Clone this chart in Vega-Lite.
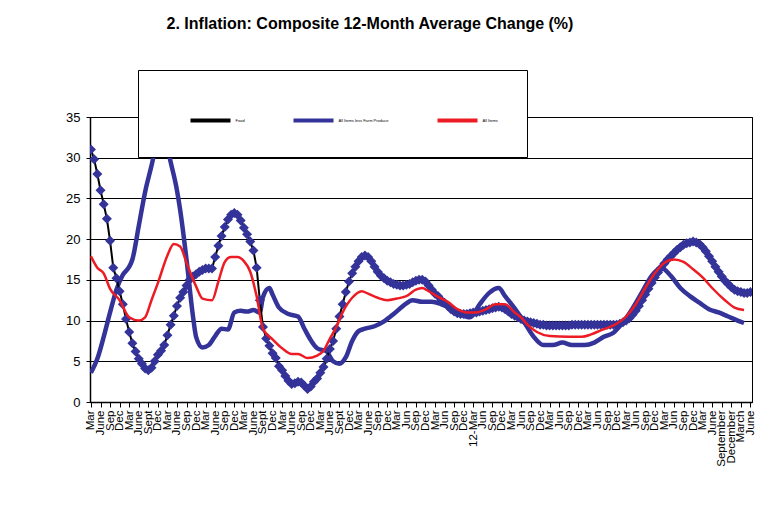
{
  "$schema": "https://vega.github.io/schema/vega-lite/v6.json",
  "width": 662,
  "height": 285,
  "autosize": {"type": "none"},
  "padding": {"left": 90, "top": 117, "right": 17, "bottom": 104},
  "background": "white",
  "config": {
    "font": "Liberation Sans",
    "view": {"stroke": "#000", "strokeWidth": 1},
    "axis": {"labelFont": "Liberation Sans", "labelColor": "#000", "domainColor": "#000", "tickColor": "#000", "title": null},
    "legend": {
      "orient": "none", "legendX": 48, "legendY": -47, "direction": "horizontal", "columns": 3,
      "symbolType": "stroke", "symbolSize": 1600, "symbolStrokeWidth": 4,
      "labelFont": "Liberation Sans", "labelFontSize": 4, "labelColor": "#000", "labelOffset": 3, "labelLimit": 0,
      "columnPadding": 40, "padding": 28.5, "fillColor": "white", "strokeColor": "#000",
      "titleOrient": "left", "titleFontSize": 4, "titlePadding": 22, "zindex": 1
    }
  },
  "title": {"text": "2. Inflation: Composite 12-Month Average Change (%)", "font": "Liberation Sans", "fontSize": 16, "fontWeight": "bold", "color": "#000", "anchor": "middle", "frame": "group", "dx": -51, "offset": 38},
  "datasets": {
    "food": [
      {"m":0,"v":31.0},{"m":1,"v":29.8},{"m":2,"v":28.0},{"m":3,"v":26.0},{"m":4,"v":24.3},{"m":5,"v":22.5},{"m":6,"v":19.8},{"m":7,"v":16.5},{"m":8,"v":15.2},{"m":9,"v":13.6},
      {"m":10,"v":12.0},{"m":11,"v":10.2},{"m":12,"v":8.6},{"m":13,"v":7.2},{"m":14,"v":6.2},{"m":15,"v":5.3},{"m":16,"v":4.7},{"m":17,"v":4.1},{"m":18,"v":3.9},{"m":19,"v":4.2},
      {"m":20,"v":5.0},{"m":21,"v":5.8},{"m":22,"v":6.3},{"m":23,"v":7.0},{"m":24,"v":8.2},{"m":25,"v":9.5},{"m":26,"v":10.6},{"m":27,"v":11.8},{"m":28,"v":12.8},{"m":29,"v":13.5},
      {"m":30,"v":14.3},{"m":31,"v":15.0},{"m":32,"v":15.4},{"m":33,"v":15.7},{"m":34,"v":16.0},{"m":35,"v":16.2},{"m":36,"v":16.4},{"m":37,"v":16.4},{"m":38,"v":16.4},{"m":39,"v":17.8},
      {"m":40,"v":19.2},{"m":41,"v":20.4},{"m":42,"v":21.5},{"m":43,"v":22.4},{"m":44,"v":23.0},{"m":45,"v":23.2},{"m":46,"v":23.0},{"m":47,"v":22.3},{"m":48,"v":21.4},{"m":49,"v":20.6},
      {"m":50,"v":19.7},{"m":51,"v":18.6},{"m":52,"v":16.5},{"m":53,"v":12.5},{"m":54,"v":9.2},{"m":55,"v":7.8},{"m":56,"v":6.9},{"m":57,"v":6.0},{"m":58,"v":5.4},{"m":59,"v":4.4},
      {"m":60,"v":3.9},{"m":61,"v":3.2},{"m":62,"v":2.6},{"m":63,"v":2.2},{"m":64,"v":2.3},{"m":65,"v":2.5},{"m":66,"v":2.4},{"m":67,"v":2.0},{"m":68,"v":1.6},{"m":69,"v":1.9},
      {"m":70,"v":2.5},{"m":71,"v":2.9},{"m":72,"v":3.6},{"m":73,"v":4.3},{"m":74,"v":5.3},{"m":75,"v":6.5},{"m":76,"v":7.5},{"m":77,"v":9.0},{"m":78,"v":10.5},{"m":79,"v":12.0},
      {"m":80,"v":13.5},{"m":81,"v":14.8},{"m":82,"v":15.8},{"m":83,"v":16.6},{"m":84,"v":17.3},{"m":85,"v":17.8},{"m":86,"v":18.0},{"m":87,"v":17.8},{"m":88,"v":17.3},{"m":89,"v":16.6},
      {"m":90,"v":16.0},{"m":91,"v":15.5},{"m":92,"v":15.2},{"m":93,"v":14.9},{"m":94,"v":14.7},{"m":95,"v":14.5},{"m":96,"v":14.4},{"m":97,"v":14.3},{"m":98,"v":14.3},{"m":99,"v":14.4},
      {"m":100,"v":14.5},{"m":101,"v":14.7},{"m":102,"v":14.9},{"m":103,"v":15.0},{"m":104,"v":15.0},{"m":105,"v":14.8},{"m":106,"v":14.3},{"m":107,"v":13.8},{"m":108,"v":13.3},{"m":109,"v":13.0},
      {"m":110,"v":12.5},{"m":111,"v":12.2},{"m":112,"v":11.8},{"m":113,"v":11.4},{"m":114,"v":11.1},{"m":115,"v":10.9},{"m":116,"v":10.8},{"m":117,"v":10.8},{"m":118,"v":10.8},{"m":119,"v":10.9},
      {"m":120,"v":11.0},{"m":121,"v":11.0},{"m":122,"v":11.1},{"m":123,"v":11.2},{"m":124,"v":11.3},{"m":125,"v":11.4},{"m":126,"v":11.5},{"m":127,"v":11.6},{"m":128,"v":11.7},{"m":129,"v":11.6},
      {"m":130,"v":11.4},{"m":131,"v":11.1},{"m":132,"v":10.8},{"m":133,"v":10.6},{"m":134,"v":10.4},{"m":135,"v":10.2},{"m":136,"v":10.0},{"m":137,"v":9.9},{"m":138,"v":9.8},{"m":139,"v":9.7},
      {"m":140,"v":9.6},{"m":141,"v":9.5},{"m":142,"v":9.5},{"m":143,"v":9.4},{"m":144,"v":9.4},{"m":145,"v":9.4},{"m":146,"v":9.4},{"m":147,"v":9.4},{"m":148,"v":9.4},{"m":149,"v":9.4},
      {"m":150,"v":9.4},{"m":151,"v":9.5},{"m":152,"v":9.5},{"m":153,"v":9.5},{"m":154,"v":9.5},{"m":155,"v":9.5},{"m":156,"v":9.5},{"m":157,"v":9.5},{"m":158,"v":9.5},{"m":159,"v":9.5},
      {"m":160,"v":9.5},{"m":161,"v":9.5},{"m":162,"v":9.5},{"m":163,"v":9.5},{"m":164,"v":9.5},{"m":165,"v":9.5},{"m":166,"v":9.6},{"m":167,"v":9.8},{"m":168,"v":10.0},{"m":169,"v":10.3},
      {"m":170,"v":10.7},{"m":171,"v":11.2},{"m":172,"v":11.8},{"m":173,"v":12.5},{"m":174,"v":13.2},{"m":175,"v":13.9},{"m":176,"v":14.6},{"m":177,"v":15.3},{"m":178,"v":15.9},{"m":179,"v":16.5},
      {"m":180,"v":17.0},{"m":181,"v":17.5},{"m":182,"v":17.9},{"m":183,"v":18.3},{"m":184,"v":18.7},{"m":185,"v":19.0},{"m":186,"v":19.3},{"m":187,"v":19.5},{"m":188,"v":19.6},{"m":189,"v":19.7},
      {"m":190,"v":19.6},{"m":191,"v":19.4},{"m":192,"v":19.0},{"m":193,"v":18.5},{"m":194,"v":17.9},{"m":195,"v":17.3},{"m":196,"v":16.6},{"m":197,"v":16.0},{"m":198,"v":15.4},{"m":199,"v":14.9},
      {"m":200,"v":14.5},{"m":201,"v":14.1},{"m":202,"v":13.8},{"m":203,"v":13.6},{"m":204,"v":13.5},{"m":205,"v":13.4},{"m":206,"v":13.4},{"m":207,"v":13.5}
    ],
    "less": [
      {"m":0,"v":3.6},{"m":2,"v":5.3},{"m":4,"v":8.0},{"m":6,"v":11.0},{"m":8,"v":13.8},{"m":10,"v":15.6},{"m":12,"v":16.6},{"m":13,"v":17.5},{"m":15,"v":21.6},{"m":17,"v":25.8},
      {"m":19,"v":29.0},{"m":21,"v":32.5},{"m":22,"v":33.5},{"m":23,"v":33.0},{"m":25,"v":29.5},{"m":27,"v":26.0},{"m":28,"v":23.6},{"m":30,"v":17.5},{"m":32,"v":10.6},{"m":33,"v":8.0},
      {"m":35,"v":6.7},{"m":37,"v":7.0},{"m":39,"v":8.1},{"m":41,"v":9.0},{"m":43,"v":8.9},{"m":45,"v":11.0},{"m":47,"v":11.2},{"m":49,"v":11.1},{"m":51,"v":11.3},{"m":53,"v":11.0},
      {"m":54,"v":12.9},{"m":56,"v":14.0},{"m":57,"v":13.2},{"m":59,"v":11.6},{"m":62,"v":10.8},{"m":65,"v":10.5},{"m":67,"v":9.0},{"m":69,"v":7.6},{"m":71,"v":6.6},{"m":74,"v":6.2},
      {"m":76,"v":5.0},{"m":78,"v":4.7},{"m":80,"v":5.5},{"m":82,"v":7.5},{"m":84,"v":8.7},{"m":86,"v":9.0},{"m":89,"v":9.3},{"m":92,"v":9.9},{"m":95,"v":10.8},{"m":98,"v":11.8},
      {"m":101,"v":12.5},{"m":104,"v":12.3},{"m":107,"v":12.3},{"m":110,"v":12.0},{"m":113,"v":11.5},{"m":116,"v":10.8},{"m":119,"v":10.4},{"m":122,"v":12.0},{"m":125,"v":13.4},{"m":128,"v":14.0},
      {"m":130,"v":13.0},{"m":133,"v":11.5},{"m":136,"v":9.8},{"m":139,"v":8.0},{"m":142,"v":7.0},{"m":145,"v":7.0},{"m":148,"v":7.3},{"m":151,"v":7.0},{"m":155,"v":7.0},{"m":158,"v":7.3},
      {"m":161,"v":8.0},{"m":164,"v":8.5},{"m":167,"v":9.8},{"m":170,"v":11.5},{"m":173,"v":13.5},{"m":176,"v":15.5},{"m":179,"v":16.5},{"m":182,"v":15.5},{"m":185,"v":14.0},{"m":188,"v":13.0},
      {"m":191,"v":12.2},{"m":194,"v":11.4},{"m":197,"v":11.0},{"m":200,"v":10.5},{"m":203,"v":10.0},{"m":205,"v":9.7}
    ],
    "all": [
      {"m":0,"v":17.9},{"m":2,"v":16.5},{"m":4,"v":15.8},{"m":6,"v":13.9},{"m":9,"v":12.5},{"m":12,"v":10.4},{"m":15,"v":10.0},{"m":17,"v":10.4},{"m":19,"v":12.5},{"m":21,"v":14.6},
      {"m":24,"v":18.0},{"m":26,"v":19.4},{"m":28,"v":19.1},{"m":30,"v":17.1},{"m":33,"v":14.2},{"m":35,"v":12.7},{"m":38,"v":12.5},{"m":40,"v":14.8},{"m":42,"v":17.2},{"m":44,"v":17.8},
      {"m":46,"v":17.8},{"m":48,"v":17.3},{"m":50,"v":16.0},{"m":52,"v":13.0},{"m":54,"v":9.0},{"m":57,"v":7.7},{"m":60,"v":6.6},{"m":63,"v":5.9},{"m":65,"v":5.9},{"m":68,"v":5.4},
      {"m":71,"v":5.7},{"m":73,"v":6.3},{"m":75,"v":7.8},{"m":77,"v":9.2},{"m":79,"v":11.0},{"m":82,"v":12.8},{"m":85,"v":13.6},{"m":87,"v":13.3},{"m":90,"v":12.8},{"m":93,"v":12.5},
      {"m":96,"v":12.7},{"m":99,"v":13.0},{"m":102,"v":13.8},{"m":104,"v":14.0},{"m":106,"v":13.6},{"m":109,"v":12.9},{"m":112,"v":12.3},{"m":115,"v":11.4},{"m":118,"v":11.0},{"m":121,"v":11.0},
      {"m":124,"v":11.4},{"m":127,"v":12.0},{"m":130,"v":12.0},{"m":133,"v":11.0},{"m":135,"v":10.4},{"m":137,"v":9.5},{"m":140,"v":8.6},{"m":144,"v":8.1},{"m":150,"v":8.0},{"m":154,"v":8.0},
      {"m":157,"v":8.3},{"m":160,"v":8.8},{"m":164,"v":9.4},{"m":168,"v":10.5},{"m":171,"v":12.0},{"m":174,"v":14.0},{"m":177,"v":15.8},{"m":180,"v":17.1},{"m":183,"v":17.5},{"m":186,"v":17.2},
      {"m":189,"v":16.3},{"m":192,"v":15.3},{"m":195,"v":14.0},{"m":199,"v":12.5},{"m":202,"v":11.6},{"m":205,"v":11.3}
    ]
  },
  "encoding": {
    "x": {
      "field": "m", "type": "quantitative",
      "scale": {"domain": [-0.3, 207.5], "nice": false, "zero": false},
      "axis": {
        "values": [0,3,6,9,12,15,18,21,24,27,30,33,36,39,42,45,48,51,54,57,60,63,66,69,72,75,78,81,84,87,90,93,96,99,102,105,108,111,114,117,120,123,126,129,132,135,138,141,144,147,150,153,156,159,162,165,168,171,174,177,180,183,186,189,192,195,198,201,204,207],
        "labelExpr": "['Mar','June','Sep','Dec','Mar','June','Sept','Dec','Mar','June','Sep','Dec','Mar','June','Sep','Dec','Mar','June','Sept','Dec','Mar','June','Sep','Dec','Mar','June','Sept','Dec','Mar','June','Sep','Dec','Mar','Jun','Sep','Dec','Mar','Jun','Sep','Dec','12-Mar','Jun','Sep','Dec','Mar','Jun','Sep','Dec','Mar','Jun','Sep','Dec','Mar','Jun','Sep','Dec','Mar','Jun','Sep','Dec','Mar','Jun','Sep','Dec','Mar','June','September','December','March','June'][round(datum.value/3)]",
        "labelAngle": -90, "labelFontSize": 11.5, "labelPadding": 3, "labelOverlap": false, "labelFlush": false, "labelBound": false,
        "tickSize": 5, "tickWidth": 1, "domainWidth": 1.5, "grid": false
      }
    },
    "y": {
      "field": "v", "type": "quantitative",
      "scale": {"domain": [0, 35], "nice": false, "zero": true},
      "axis": {"values": [0,5,10,15,20,25,30,35], "grid": true, "gridColor": "#000", "gridWidth": 1, "gridOpacity": 1, "tickSize": 4, "tickWidth": 1, "labelFontSize": 13, "labelPadding": 6, "domainWidth": 1.5}
    }
  },
  "layer": [
    {
      "data": {"name": "less"},
      "mark": {"type": "line", "strokeWidth": 4.5, "interpolate": "monotone", "clip": true},
      "encoding": {"color": {"datum": "All Items less Farm Produce", "type": "nominal", "scale": {"domain": ["Food", "All Items less Farm Produce", "All Items"], "range": ["#000000", "#333399", "#ED1C24"]}, "legend": {"title": " "}}}
    },
    {
      "data": {"name": "food"},
      "mark": {"type": "line", "strokeWidth": 2, "clip": true},
      "encoding": {"color": {"datum": "Food", "type": "nominal"}}
    },
    {
      "data": {"name": "food"},
      "mark": {"type": "point", "shape": "diamond", "filled": true, "size": 100, "color": "#333399", "opacity": 1, "clip": true},
      "encoding": {}
    },
    {
      "data": {"name": "all"},
      "mark": {"type": "line", "strokeWidth": 2.5, "interpolate": "monotone", "clip": true},
      "encoding": {"color": {"datum": "All Items", "type": "nominal"}}
    }
  ]
}
